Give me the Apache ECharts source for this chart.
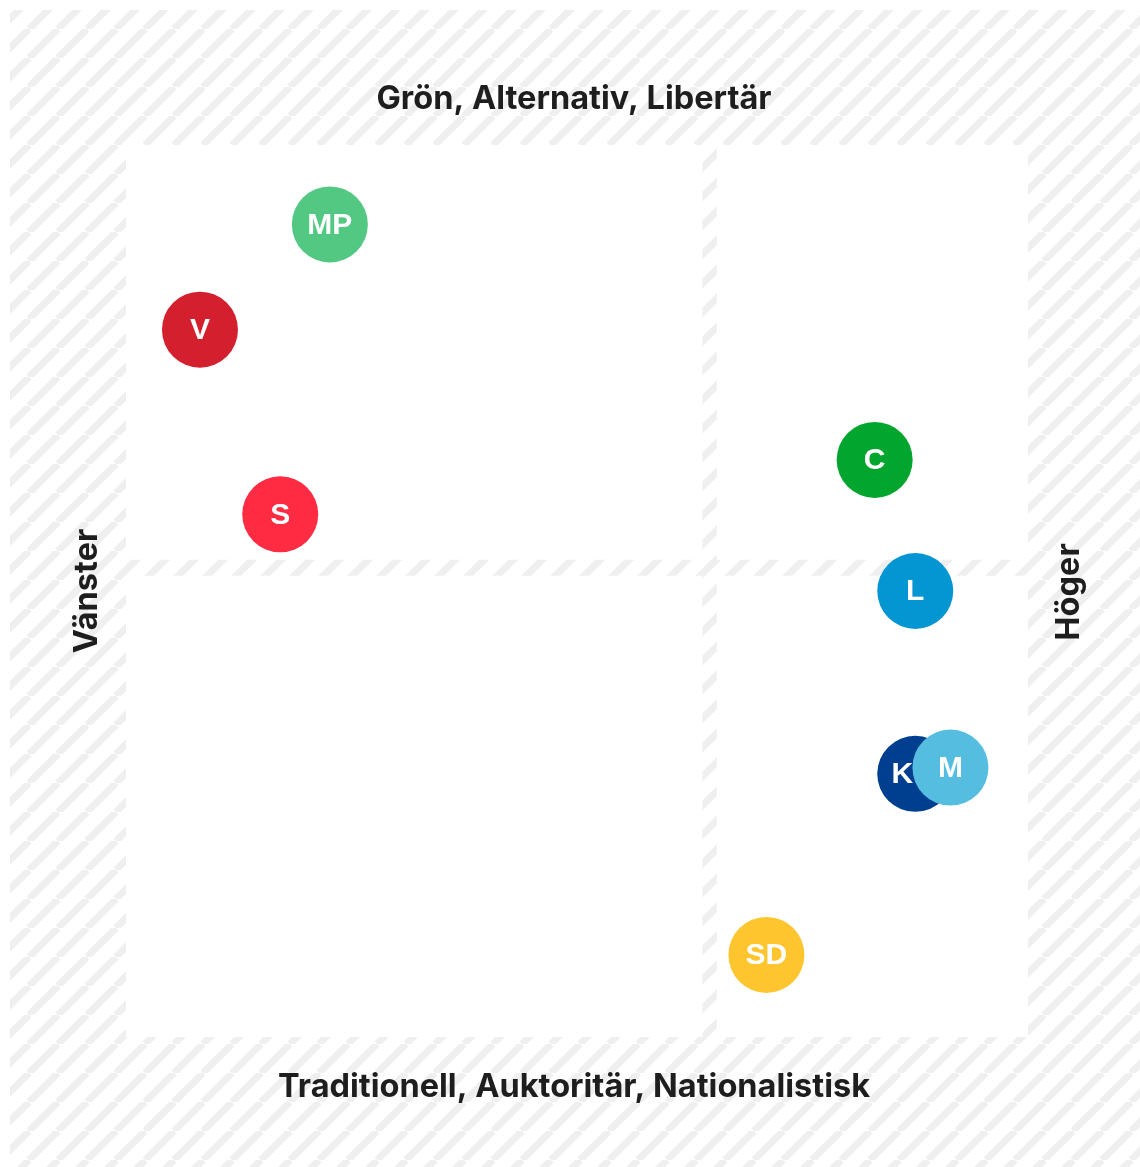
<!DOCTYPE html>
<html>
<head>
<meta charset="utf-8">
<script src="https://cdn.jsdelivr.net/npm/echarts@6/dist/echarts.min.js"></script>
<style>
html, body { margin: 0; padding: 0; background: #fff; }
#canvas { width: 1140px; height: 1167px; }
</style>
</head>
<body>
<div id="canvas"></div>
<script>
// party positions (0..100 on both axes)
var parties = ['MP', 'V', 'S', 'C', 'L', 'K', 'M', 'SD'];
var xValues = [22.6, 8.2, 17.1, 83.0, 87.5, 87.5, 91.4, 71.0];
var yValues = [91.1, 79.3, 58.6, 64.7, 50.0, 29.5, 30.2, 9.2];
var partyColors = ['#53c882', '#d41f2f', '#fe2b43', '#02a62e', '#0396d2', '#003f8f', '#55bde0', '#ffc52e'];
var axisTitles = ['Grön, Alternativ, Libertär', 'Traditionell, Auktoritär, Nationalistisk', 'Vänster', 'Höger'];
// striped gap between the quadrants
var xSplit = [63.9, 65.5];
var ySplit = [51.7, 53.5];

var make_stripes = function() {
    var c = document.createElement('canvas');
    c.width = 29;
    c.height = 29;
    var ctx = c.getContext('2d');
    ctx.fillStyle = '#fff';
    ctx.fillRect(0, 0, 29, 29);
    ctx.strokeStyle = '#efefef';
    ctx.lineWidth = 7;
    for (var k = -1; k <= 1; k++) {
        ctx.beginPath();
        ctx.moveTo(k * 29, 29);
        ctx.lineTo(k * 29 + 29, 0);
        ctx.stroke();
    }
    return c;
}

var titleStyle = function(text) {
    return {
        text: text,
        fontFamily: 'Inter',
        fontWeight: 'bold',
        fontSize: 32.5,
        fill: '#1e1e1e',
        align: 'center',
        verticalAlign: 'middle'
    };
}

var quadrant = function(x0, x1, y0, y1) {
    return [{xAxis: x0, yAxis: y0}, {xAxis: x1, yAxis: y1}];
}

var series = [{
    type: 'scatter',
    z: 1,
    silent: true,
    data: [],
    markArea: {
        silent: true,
        itemStyle: {color: '#fff'},
        data: [
            quadrant(0, xSplit[0], ySplit[1], 100),
            quadrant(xSplit[1], 100, ySplit[1], 100),
            quadrant(0, xSplit[0], 0, ySplit[0]),
            quadrant(xSplit[1], 100, 0, ySplit[0])
        ]
    }
}];

for (var i = 0; i < parties.length; i++) {
    series.push({
        type: 'scatter',
        name: parties[i],
        z: 2 + i,
        silent: true,
        symbolSize: 76,
        data: [[xValues[i], yValues[i]]],
        itemStyle: {color: partyColors[i], opacity: 1},
        label: {
            show: true,
            position: 'inside',
            formatter: parties[i],
            offset: parties[i] == 'K' ? [-13, 1] : [0, 1],
            color: '#fff',
            fontSize: 30,
            fontWeight: 'bold',
            fontFamily: 'Liberation Sans'
        }
    });
}

var myChart = echarts.init(document.getElementById('canvas'));
var option = {
    animation: false,
    grid: {left: 126, top: 145, width: 902, height: 892},
    xAxis: {type: 'value', min: 0, max: 100, show: false},
    yAxis: {type: 'value', min: 0, max: 100, show: false},
    graphic: [
        {
            type: 'rect',
            silent: true,
            z: -10,
            shape: {x: 10, y: 10, width: 1130, height: 1157},
            style: {fill: {image: make_stripes(), repeat: 'repeat'}}
        },
        {type: 'text', x: 574, y: 99, style: titleStyle(axisTitles[0])},
        {type: 'text', x: 574, y: 1087, style: titleStyle(axisTitles[1])},
        {type: 'text', x: 87, y: 591, rotation: Math.PI / 2, style: titleStyle(axisTitles[2])},
        {type: 'text', x: 1069, y: 592, rotation: Math.PI / 2, style: titleStyle(axisTitles[3])}
    ],
    series: series
};
myChart.setOption(option);
</script>
</body>
</html>
